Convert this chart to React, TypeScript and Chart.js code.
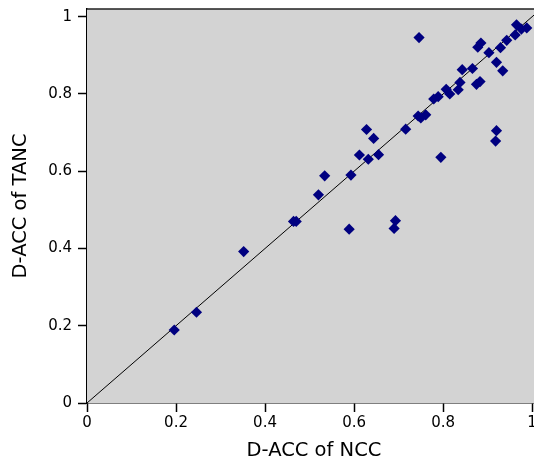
import React, { useEffect, useRef } from "react";
import { Chart, registerables } from "chart.js";

Chart.register(...registerables);

// D-ACC of NCC (x) and D-ACC of TANC (y), one entry per point
const nccValues = [
  0.196, 0.246, 0.352, 0.464, 0.470, 0.520, 0.534, 0.589, 0.593, 0.612,
  0.628, 0.632, 0.644, 0.655, 0.690, 0.693, 0.716, 0.746, 0.744, 0.750,
  0.761, 0.795, 0.779, 0.789, 0.807, 0.815, 0.834, 0.838, 0.843, 0.866,
  0.875, 0.883, 0.878, 0.885, 0.903, 0.920, 0.934, 0.920, 0.918, 0.929,
  0.943, 0.962, 0.965, 0.976, 0.988,
];
const tancValues = [
  0.189, 0.235, 0.392, 0.470, 0.470, 0.539, 0.588, 0.450, 0.590, 0.642,
  0.708, 0.631, 0.685, 0.643, 0.452, 0.472, 0.709, 0.946, 0.743, 0.738,
  0.746, 0.636, 0.787, 0.793, 0.812, 0.800, 0.811, 0.830, 0.863, 0.866,
  0.825, 0.832, 0.921, 0.932, 0.907, 0.882, 0.860, 0.705, 0.678, 0.920,
  0.939, 0.953, 0.979, 0.968, 0.971,
];
const diagonalValues = [0, 1.02];
const tickValues = [0, 0.2, 0.4, 0.6, 0.8, 1];
const axisMin = 0;
const axisMax = 1.02;
const xTitle = "D-ACC of NCC";
const yTitle = "D-ACC of TANC";

const CW = 550;
const CH = 470;
const FONT = "'DejaVu Sans', sans-serif";

export default function App() {
  const ref = useRef<HTMLCanvasElement | null>(null);

  useEffect(() => {
    const canvas = ref.current;
    if (!canvas) return;

    const framePlugin = {
      id: "frame",
      beforeDatasetsDraw(chart: any) {
        const { ctx, chartArea: a } = chart;
        ctx.save();
        ctx.fillStyle = "#d3d3d3";
        ctx.fillRect(a.left, a.top, a.right - a.left, a.bottom - a.top);
        ctx.restore();
      },
      afterDraw(chart: any) {
        const { ctx, chartArea: a } = chart;
        ctx.save();
        ctx.strokeStyle = "#222";
        ctx.lineWidth = 1.5;
        ctx.beginPath();
        ctx.moveTo(a.left, a.top);
        ctx.lineTo(a.right, a.top);
        ctx.lineTo(a.right, a.bottom);
        ctx.stroke();
        ctx.restore();
      },
    };

    const fmt = (v: any) => String(Math.round(Number(v) * 10) / 10);

    const chart = new Chart(canvas, {
      type: "scatter",
      data: {
        datasets: [
          {
            type: "scatter",
            data: nccValues.map((x, i) => ({ x, y: tancValues[i] })),
            pointStyle: "rectRot",
            pointRadius: 5.6,
            pointBorderWidth: 0,
            backgroundColor: "#000080",
            borderColor: "#000080",
          } as any,
          {
            type: "line",
            data: diagonalValues.map((v) => ({ x: v, y: v })),
            borderColor: "#000",
            borderWidth: 1,
            pointRadius: 0,
            fill: false,
          } as any,
        ],
      },
      plugins: [framePlugin],
      options: {
        responsive: false,
        animation: false,
        events: [],
        layout: { padding: { left: 0, top: 9, right: CW - 541, bottom: 0 } },
        plugins: {
          legend: { display: false },
          tooltip: { enabled: false },
        },
        scales: {
          x: {
            type: "linear",
            min: axisMin,
            max: axisMax,
            afterBuildTicks: (s: any) => {
              s.ticks = tickValues.map((v) => ({ value: v }));
            },
            afterFit: (s: any) => {
              s.height = CH - 403;
              s.paddingLeft = 0;
              s.paddingRight = 0;
            },
            ticks: {
              callback: fmt,
              color: "#000",
              padding: 2,
              maxRotation: 0,
              font: { family: FONT, size: 15 },
            },
            grid: {
              drawOnChartArea: false,
              tickLength: 9,
              tickColor: "#000",
              tickWidth: 1.5,
            },
            border: { color: "#000", width: 1.5 },
            title: {
              display: true,
              text: xTitle,
              color: "#000",
              font: { family: FONT, size: 19.5 },
              padding: { top: 0, bottom: 7 },
            },
          },
          y: {
            type: "linear",
            min: axisMin,
            max: axisMax,
            afterBuildTicks: (s: any) => {
              s.ticks = tickValues.map((v) => ({ value: v }));
            },
            afterFit: (s: any) => {
              s.width = 87;
              s.paddingTop = 0;
              s.paddingBottom = 0;
            },
            ticks: {
              callback: fmt,
              color: "#000",
              padding: 6,
              font: { family: FONT, size: 15 },
            },
            grid: {
              drawOnChartArea: false,
              tickLength: 9,
              tickColor: "#000",
              tickWidth: 1.5,
            },
            border: { color: "#000", width: 1.5 },
            title: {
              display: true,
              text: yTitle,
              color: "#000",
              font: { family: FONT, size: 19.5 },
              padding: { top: 9, bottom: 0 },
            },
          },
        },
      } as any,
    });

    return () => {
      chart.destroy();
    };
  }, []);

  return (
    <div
      style={{
        position: "fixed",
        left: 0,
        top: 0,
        width: 534,
        height: 459,
        overflow: "hidden",
        background: "#fff",
      }}
    >
      <canvas
        ref={ref}
        width={CW}
        height={CH}
        style={{ display: "block", width: CW, height: CH }}
      />
    </div>
  );
}
